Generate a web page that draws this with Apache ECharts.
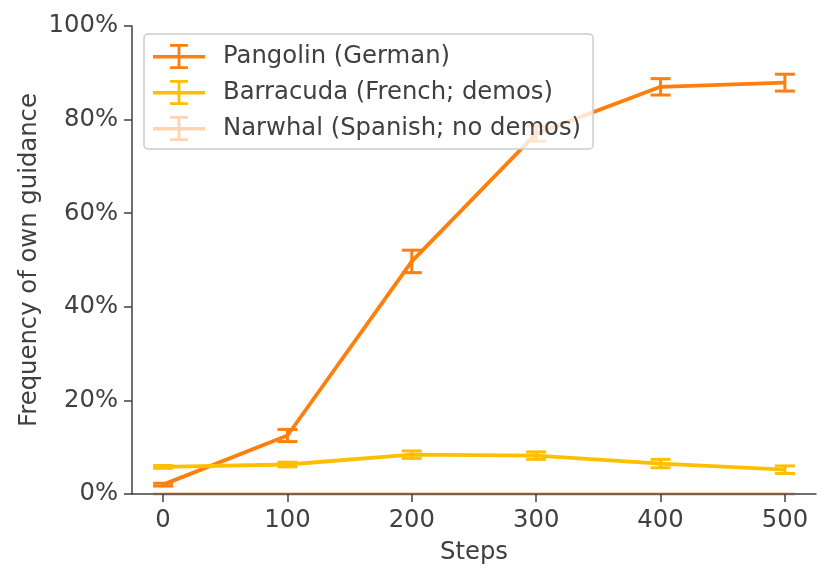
<!DOCTYPE html>
<html>
<head>
<meta charset="utf-8">
<script src="https://cdn.jsdelivr.net/npm/echarts@6/dist/echarts.min.js"></script>
<style>
  html, body { margin: 0; padding: 0; background: #fff; }
  #chart { width: 830px; height: 581px; }
</style>
</head>
<body>
<div id="chart"></div>
<script>
const steps = [0, 100, 200, 300, 400, 500];
const stepTicks = [0, 100, 200, 300, 400, 500];

const pangolin = [2.0, 12.5, 49.7, 77.0, 87.0, 87.9];
const pangolinErr = [0.3, 1.3, 2.4, 1.6, 1.75, 1.8];

const barracuda = [5.8, 6.3, 8.4, 8.2, 6.5, 5.2];
const barracudaErr = [0.3, 0.5, 0.8, 0.8, 0.9, 0.8];

const narwhal = [0, 0, 0, 0, 0, 0];
const narwhalErr = [0, 0, 0, 0, 0, 0];

const names = ['Pangolin (German)', 'Barracuda (French; demos)', 'Narwhal (Spanish; no demos)'];
const colors = ['#ff7f0e', '#ffbf00', '#ffd2b0'];

const textColor = '#404040';
const font = 'DejaVu Sans';
const fs = 24.3;

// errorbar glyph for the legend: line + stem + two caps
const errIcon = 'path://M0,11 L52,11 L52,14.5 L0,14.5 Z M24.6,0 L27.4,0 L27.4,25 L24.6,25 Z ' +
    'M17,0 L35,0 L35,2.8 L17,2.8 Z M17,22.2 L35,22.2 L35,25 L17,25 Z';

function lineSeries(name, values, color) {
    return {
        name: name,
        type: 'line',
        data: steps.map((s, i) => [s, values[i]]),
        symbol: 'none',
        lineStyle: { color: color, width: 3.8 },
        itemStyle: { color: color },
        z: 2
    };
}

function errorSeries(name, values, errs, color) {
    return {
        name: name,
        type: 'custom',
        data: steps.map((s, i) => [s, values[i] - errs[i], values[i] + errs[i]]),
        itemStyle: { color: color },
        z: 2,
        renderItem: (params, api) => {
            const x = api.value(0);
            const lo = api.coord([x, api.value(1)]);
            const hi = api.coord([x, api.value(2)]);
            const hw = 10;
            const st = { stroke: color, lineWidth: 3 };
            return {
                type: 'group',
                children: [
                    { type: 'line', shape: { x1: lo[0], y1: lo[1], x2: hi[0], y2: hi[1] }, style: st },
                    { type: 'line', shape: { x1: lo[0] - hw, y1: lo[1], x2: lo[0] + hw, y2: lo[1] }, style: st },
                    { type: 'line', shape: { x1: hi[0] - hw, y1: hi[1], x2: hi[0] + hw, y2: hi[1] }, style: st }
                ]
            };
        }
    };
}

const chart = echarts.init(document.getElementById('chart'));

chart.setOption({
    animation: false,
    backgroundColor: '#fff',
    textStyle: { fontFamily: font },
    grid: { left: 132, right: 14, top: 26, bottom: 87, containLabel: false },
    legend: {
        left: 144,
        top: 34,
        orient: 'vertical',
        padding: [10, 12, 8, 9],
        itemWidth: 52,
        itemHeight: 25,
        itemGap: 11,
        backgroundColor: 'rgba(255,255,255,0.8)',
        borderColor: '#cccccc',
        borderWidth: 1.5,
        borderRadius: 4,
        selectedMode: false,
        textStyle: {
            color: textColor,
            fontFamily: font,
            fontSize: fs,
            lineHeight: 25,
            padding: [0, 0, 0, 13]
        },
        data: names.map((n, i) => ({ name: n, icon: errIcon, itemStyle: { color: colors[i] } }))
    },
    xAxis: {
        type: 'value',
        min: -25,
        max: 525,
        z: 5,
        name: 'Steps',
        nameLocation: 'middle',
        nameGap: 47,
        nameMoveOverlap: false,
        nameTextStyle: { color: textColor, fontSize: fs, fontFamily: font },
        axisLine: { show: true, onZero: false, lineStyle: { color: '#404040', width: 1.5 } },
        axisTick: { show: true, length: 8, customValues: stepTicks, lineStyle: { color: '#404040', width: 1.5 } },
        axisLabel: { customValues: stepTicks, color: textColor, fontSize: fs, margin: 15 },
        splitLine: { show: false }
    },
    yAxis: {
        type: 'value',
        min: 0,
        max: 100,
        interval: 20,
        z: 5,
        name: 'Frequency of own guidance',
        nameLocation: 'middle',
        nameGap: 90,
        nameMoveOverlap: false,
        nameTextStyle: { color: textColor, fontSize: fs, fontFamily: font },
        axisLine: { show: true, onZero: false, lineStyle: { color: '#404040', width: 1.5 } },
        axisTick: { show: true, length: 8, lineStyle: { color: '#404040', width: 1.5 } },
        axisLabel: { color: textColor, fontSize: fs, margin: 14, formatter: '{value}%' },
        splitLine: { show: false }
    },
    series: [
        lineSeries(names[0], pangolin, colors[0]),
        errorSeries(names[0], pangolin, pangolinErr, colors[0]),
        lineSeries(names[1], barracuda, colors[1]),
        errorSeries(names[1], barracuda, barracudaErr, colors[1]),
        lineSeries(names[2], narwhal, colors[2]),
        errorSeries(names[2], narwhal, narwhalErr, colors[2])
    ]
});
</script>
</body>
</html>
